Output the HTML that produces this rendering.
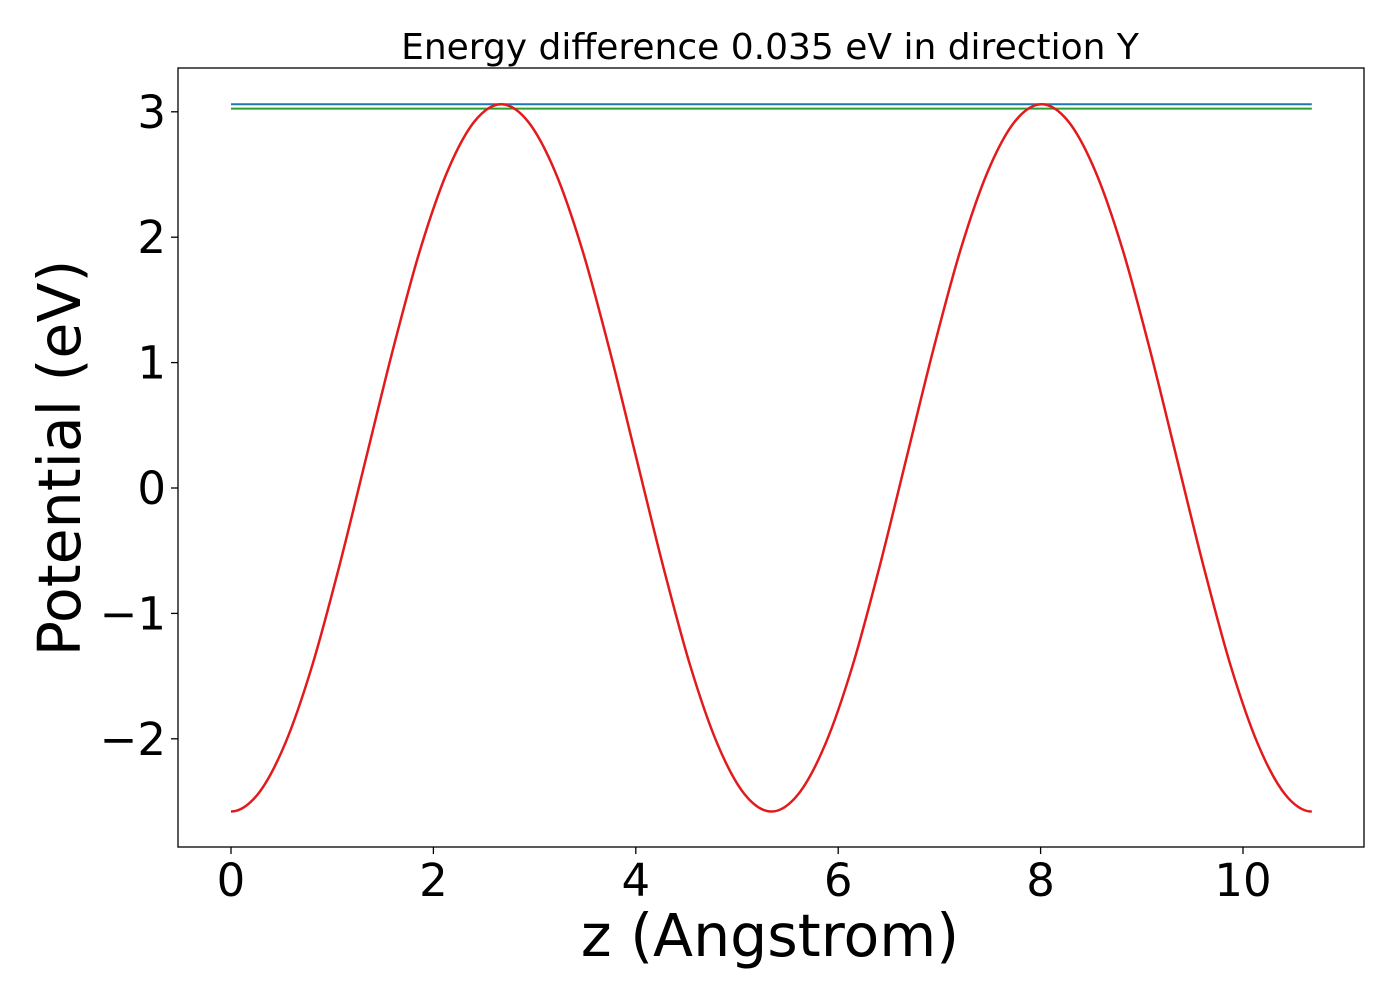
<!DOCTYPE html>
<html><head><meta charset="utf-8"><style>
html,body{margin:0;padding:0;background:#fff;}
svg{display:block;font-family:"DejaVu Sans","Liberation Sans",sans-serif;}
</style></head><body>
<svg id="chart" width="1400" height="1000">
<text x="770" y="59" font-size="36" text-anchor="middle">Energy difference 0.035 eV in direction Y</text>
<g id="plot"></g>
<rect x="178" y="68" width="1186" height="779" fill="none" stroke="#000" stroke-width="1.3"/>
<g id="xticks"></g><g id="yticks"></g>
<text x="770" y="956" font-size="58.5" text-anchor="middle">z (Angstrom)</text>
<text transform="translate(80,458) rotate(-90)" font-size="58.5" text-anchor="middle">Potential (eV)</text>
</svg>
<script>
const zValues=[0,0.267,0.534,0.801,1.068,1.335,1.602,1.869,2.136,2.403,2.67,2.937,3.204,3.471,3.738,4.005,4.272,4.539,4.806,5.073,5.34,5.607,5.874,6.141,6.408,6.675,6.942,7.209,7.476,7.743,8.01,8.277,8.544,8.811,9.078,9.345,9.612,9.879,10.146,10.413,10.68];
const potential=[-2.58,-2.44,-2.04,-1.42,-0.63,0.24,1.11,1.90,2.52,2.92,3.06,2.92,2.52,1.90,1.11,0.24,-0.63,-1.42,-2.04,-2.44,-2.58,-2.44,-2.04,-1.42,-0.63,0.24,1.11,1.90,2.52,2.92,3.06,2.92,2.52,1.90,1.11,0.24,-0.63,-1.42,-2.04,-2.44,-2.58];
const maxLevel=[3.06];
const minLevel=[3.025];
const xTickVals=[0,2,4,6,8,10];
const yTickVals=[-2,-1,0,1,2,3];
const yTickLabels=["\u22122","\u22121","0","1","2","3"];
const NS="http://www.w3.org/2000/svg";
const xs=v=>231+v*101.2;
const ys=v=>488-v*125.4;
function mk(t,a,p){const e=document.createElementNS(NS,t);for(const k in a)e.setAttribute(k,a[k]);p.appendChild(e);return e;}
const plot=document.getElementById('plot');
const zEnd=zValues[zValues.length-1];
const bl=mk('line',{x1:xs(0),x2:xs(zEnd),y1:ys(maxLevel[0]),y2:ys(maxLevel[0]),stroke:'#1f77b4','stroke-width':2},plot);


const gl=mk('line',{x1:xs(0),x2:xs(zEnd),y1:ys(minLevel[0]),y2:ys(minLevel[0]),stroke:'#2ca02c','stroke-width':2},plot);


const P=zValues.map((z,i)=>[xs(z),ys(potential[i])]);
const n=P.length;
const first=[2*P[0][0]-P[1][0],P[1][1]];
const last=[2*P[n-1][0]-P[n-2][0],P[n-2][1]];
let d=`M${P[0][0]},${P[0][1]}`;
for(let i=0;i<n-1;i++){const p0=i>0?P[i-1]:first,p1=P[i],p2=P[i+1],p3=i+2<n?P[i+2]:last;
d+=` C${p1[0]+(p2[0]-p0[0])/6},${p1[1]+(p2[1]-p0[1])/6} ${p2[0]-(p3[0]-p1[0])/6},${p2[1]-(p3[1]-p1[1])/6} ${p2[0]},${p2[1]}`;}
const pl=mk('path',{d:d,fill:'none',stroke:'#e31a1c','stroke-width':2.5},plot);


const xt=document.getElementById('xticks');
xTickVals.forEach(v=>{
const l=mk('line',{x1:xs(v),x2:xs(v),y1:847,y2:854,stroke:'#000','stroke-width':1.3},xt);


const t=mk('text',{x:xs(v),y:896,'font-size':45,'text-anchor':'middle'},xt);t.textContent=v;


});
const yt=document.getElementById('yticks');
yTickVals.forEach((v,i)=>{
const l=mk('line',{x1:171,x2:178,y1:ys(v),y2:ys(v),stroke:'#000','stroke-width':1.3},yt);


const t=mk('text',{x:166,y:ys(v)+16,'font-size':45,'text-anchor':'end'},yt);t.textContent=yTickLabels[i];


});
</script>
</body></html>
